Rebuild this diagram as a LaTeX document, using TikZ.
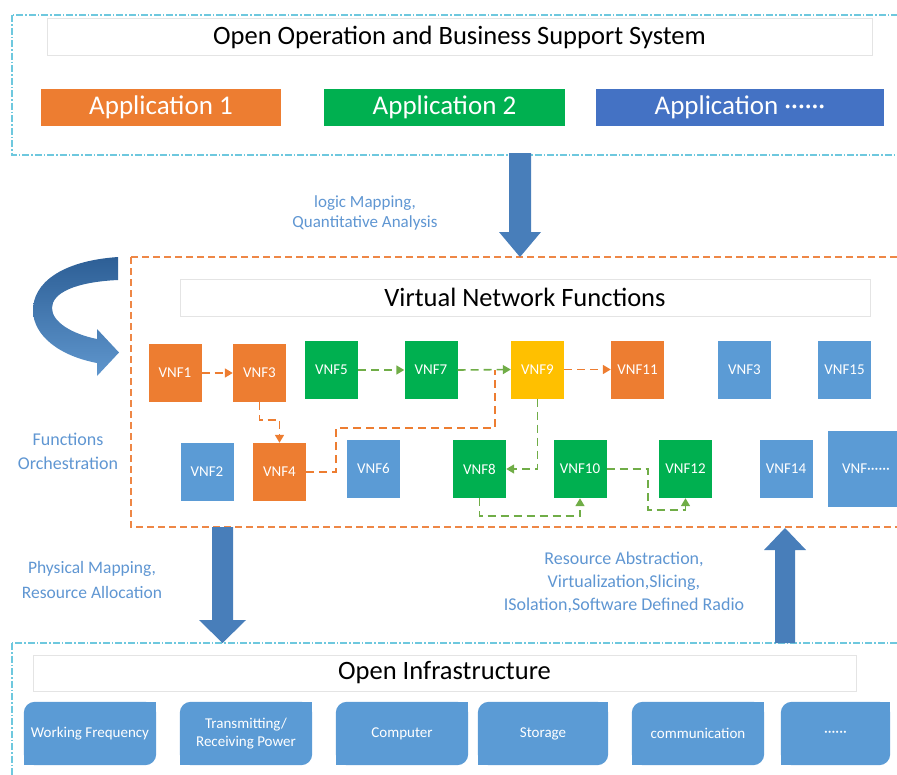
\documentclass[tikz,border=0pt]{standalone}
\usepackage{fontspec}
\setmainfont{Carlito}
\usetikzlibrary{arrows.meta,calc}
\definecolor{orng}{RGB}{237,125,49}
\definecolor{grn}{RGB}{0,176,80}
\definecolor{appblue}{RGB}{68,114,196}
\definecolor{vblue}{RGB}{91,155,213}
\definecolor{yel}{RGB}{255,192,0}
\definecolor{lblue}{RGB}{95,150,210}
\definecolor{cyanline}{RGB}{110,200,222}
\definecolor{lorng}{RGB}{238,135,70}
\definecolor{cgreen}{RGB}{112,173,71}
\definecolor{arrblue}{RGB}{72,126,186}
\definecolor{titleborder}{RGB}{228,228,228}
\pgfdeclarelayer{bg}
\pgfsetlayers{bg,main}
\begin{document}
\begin{tikzpicture}[x=1pt,y=-1pt,
  vnf/.style={minimum width=53pt,minimum height=58pt,inner sep=0pt,text=white,font=\fontsize{15}{17}\selectfont},
  app/.style={minimum height=37pt,inner sep=0pt,text=white,font=\fontsize{27}{30}\selectfont},
  titlebox/.style={draw=titleborder,fill=white,line width=0.6pt,minimum height=37pt,inner sep=0pt,font=\fontsize{26.5}{30}\selectfont},
  res/.style={minimum height=63pt,inner sep=0pt,text=white,align=center,font=\fontsize{15}{18}\selectfont},
  lbl/.style={text=lblue,align=center,font=\fontsize{17}{20}\selectfont},
  cyanbox/.style={draw=cyanline,line width=1.2pt,dash pattern=on 7pt off 2pt on 1.5pt off 2pt},
  orbox/.style={draw=lorng,line width=1.4pt,dash pattern=on 7pt off 4pt},
  oline/.style={draw=orng,line width=1.6pt,dash pattern=on 8pt off 5pt},
  gline/.style={draw=cgreen,line width=1.6pt,dash pattern=on 8pt off 5pt},
  otip/.style={-{Triangle[length=8pt,width=9pt]}},
  bigarrow/.style={fill=arrblue}
]
\useasboundingbox (0,0) rectangle (897,774);

% containers
\draw[cyanbox] (12,15) rectangle (915,155);
\draw[orbox] (131,257) rectangle (915,527);
\draw[cyanbox] (12,643) rectangle (915,795);

% top block
\node[titlebox,minimum width=825pt] (oss) at (459.5,37) {Open Operation and Business Support System};
\node[app,fill=orng,minimum width=240pt] (app1) at (161,107.5) {Application 1};
\node[app,fill=grn,minimum width=241pt] (app2) at (444.5,107.5) {Application 2};
\node[app,fill=appblue,minimum width=288pt] (app3) at (740,107.5) {Application ······};

% arrow down top
\fill[bigarrow] (509,153) -- (531,153) -- (531,232) -- (541,232) -- (520,257) -- (499,232) -- (509,232) -- cycle;
\node[lbl,font=\fontsize{17}{20}\selectfont] (lm) at (365,212.5) {logic Mapping,\\Quantitative Analysis};

% curved arrow
\shade[top color={rgb,255:red,45;green,95;blue,150},bottom color={rgb,255:red,95;green,150;blue,205}]
  (118,257) .. controls (60,261) and (33,284) .. (33,310)
  .. controls (33,336) and (60,356) .. (97,363)
  -- (97,376) -- (119,352.5) -- (97,329) -- (97,339)
  .. controls (72,334) and (52,322) .. (52,308)
  .. controls (52,293) and (75,282) .. (118,280) -- cycle;
\node[lbl,font=\fontsize{18}{24}\selectfont] (fo) at (68,451) {Functions\\Orchestration};

% VNF block
\node[titlebox,minimum width=690pt] (vnft) at (525,297.5) {Virtual Network Functions};
\node[vnf,fill=orng] (v1) at (175,373) {VNF1};
\node[vnf,fill=orng] (v3) at (259.5,373) {VNF3};
\node[vnf,fill=grn] (v5) at (331.5,370) {VNF5};
\node[vnf,fill=grn] (v7) at (431,370) {VNF7};
\node[vnf,fill=yel] (v9) at (537.5,369.5) {VNF9};
\node[vnf,fill=orng] (v11) at (637.5,369.5) {VNF11};
\node[vnf,fill=vblue] (v3b) at (744.5,369.5) {VNF3};
\node[vnf,fill=vblue] (v15) at (844.5,369.5) {VNF15};
\node[vnf,fill=vblue] (v2) at (207,472) {VNF2};
\node[vnf,fill=orng] (v4) at (279.5,472) {VNF4};
\node[vnf,fill=vblue] (v6) at (373.5,468.5) {VNF6};
\node[vnf,fill=grn] (v8) at (479.5,469) {VNF8};
\node[vnf,fill=grn] (v10) at (580,469) {VNF10};
\node[vnf,fill=grn] (v12) at (685.5,469) {VNF12};
\node[vnf,fill=vblue] (v14) at (786,469) {VNF14};
\node[vnf,fill=vblue,minimum width=76pt,minimum height=76pt] (vd) at (866,469) {VNF······};
\coordinate (join) at (495,369.5);

% connectors
\draw[oline,otip] (v1) -- (v3);
\draw[oline,otip] (v3.south) -- ++(0,18) -| (v4.north);
\draw[oline] (v4.east) -- ++(30,0) -- ++(0,-44) -| (join);
\draw[gline,otip] (v5) -- (v7);
\draw[gline,otip] (v7.east) -- (v9.west);
\draw[oline,otip] (v9) -- (v11);
\draw[gline,otip] (v9.south) |- (v8.east);
\draw[gline,otip] (v8.south) -- ++(0,18) -| (v10.south);
\draw[gline,otip] (v10.east) -- ++(41,0) |- ([yshift=-12pt]v12.south) -- (v12.south);

% arrows between VNF and infrastructure
\fill[bigarrow] (212,527) -- (233,527) -- (233,620) -- (246,620) -- (222.5,643) -- (199,620) -- (212,620) -- cycle;
\fill[bigarrow] (775,643) -- (795,643) -- (795,550) -- (806,550) -- (785,528) -- (764,550) -- (775,550) -- cycle;
\node[lbl,font=\fontsize{17.5}{25}\selectfont] (pm) at (92,579.5) {Physical Mapping,\\Resource Allocation};
\node[lbl,font=\fontsize{18}{23}\selectfont] (ra) at (624,582) {Resource Abstraction,\\Virtualization,Slicing,\\ISolation,Software Defined Radio};

% infrastructure
\node[titlebox,minimum width=823pt,minimum height=36pt] (inf) at (444.5,673) {Open Infrastructure};
\node[res,minimum width=132pt] (r1) at (90,733.5) {Working Frequency};
\node[res,minimum width=132pt] (r2) at (246,733.5) {Transmitting/\\Receiving Power};
\node[res,minimum width=132pt] (r3) at (402,733.5) {Computer};
\node[res,minimum width=130pt] (r4) at (543,733.5) {Storage};
\node[res,minimum width=132pt] (r5) at (698,733.5) {communication};
\node[res,minimum width=109pt] (r6) at (835.5,733.5) {······};
\begin{pgfonlayer}{bg}
\foreach \n in {r1,r2,r3,r4,r5,r6}{
  \fill[vblue,rounded corners=11pt] (\n.north west) rectangle (\n.south east);
  \fill[vblue] (\n.north east) rectangle ++(-14,14);
  \fill[vblue] (\n.south west) rectangle ++(14,-14);
}
\end{pgfonlayer}
\end{tikzpicture}
\end{document}
